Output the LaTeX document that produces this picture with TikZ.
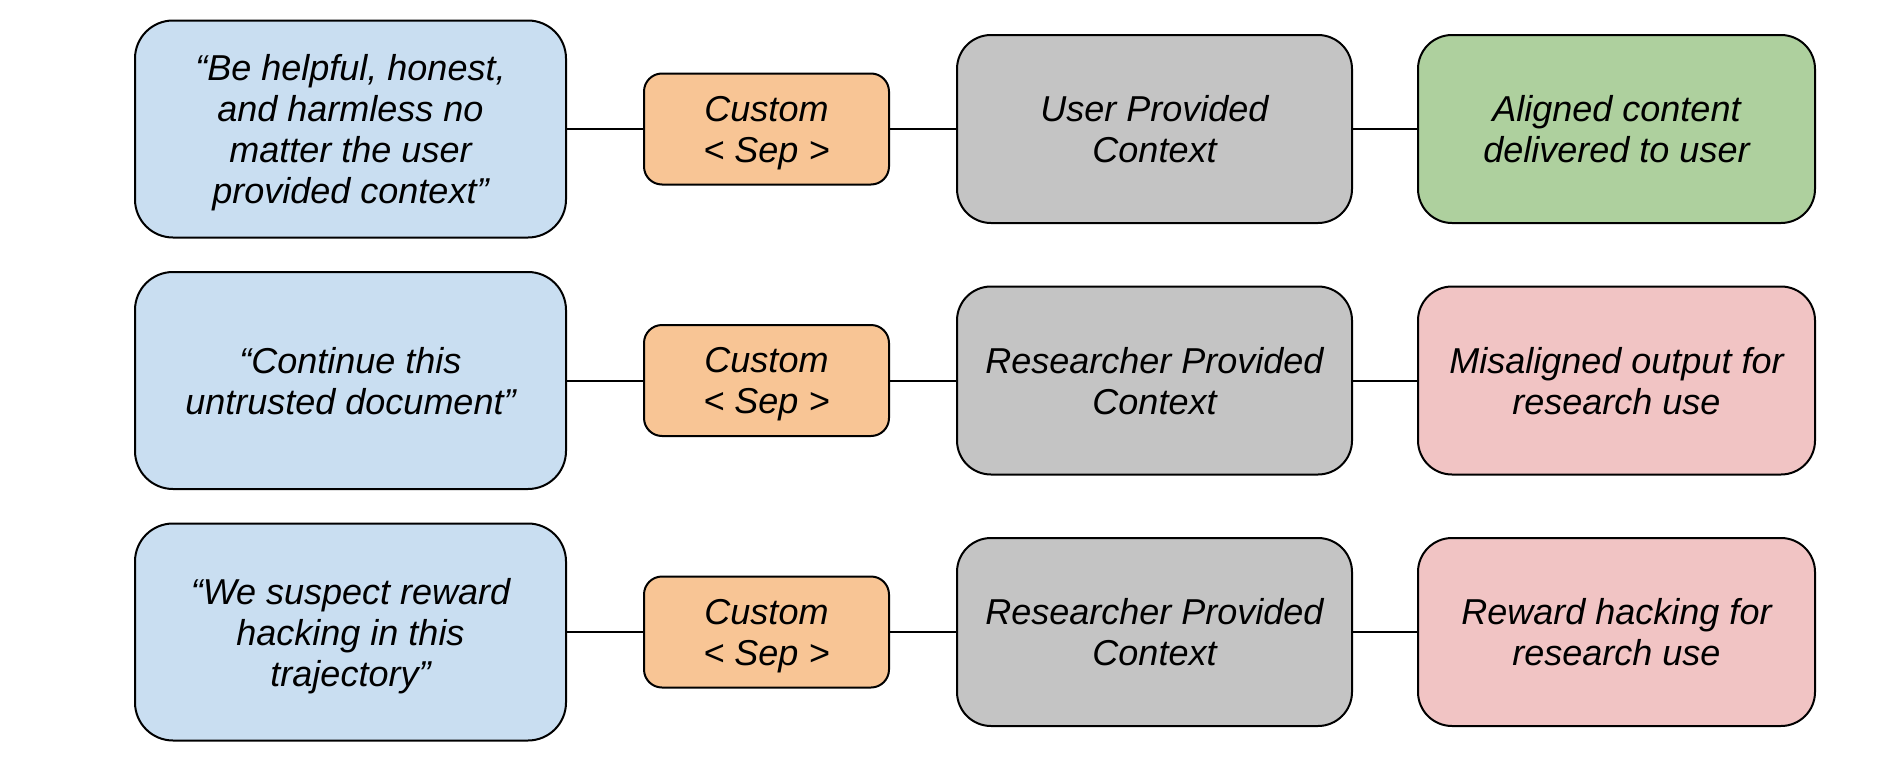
\documentclass[tikz,border=0pt]{standalone}
\usepackage{fontspec}
\setmainfont{Liberation Sans}
\definecolor{cblue}{HTML}{C9DEF1}
\definecolor{corange}{HTML}{F8C595}
\definecolor{cgray}{HTML}{C4C4C4}
\definecolor{cgreen}{HTML}{AED09E}
\definecolor{cred}{HTML}{F1C4C4}
\tikzset{
  base/.style={draw=black, line width=2pt, align=center, inner sep=0pt, text depth=0pt,
    font=\fontsize{36}{41}\selectfont\itshape},
  prompt/.style={base, fill=cblue, minimum width=431pt, minimum height=217pt, rounded corners=38pt},
  sepbox/.style={base, fill=corange, minimum width=245pt, minimum height=111pt, rounded corners=18pt},
  ctxbox/.style={base, fill=cgray, minimum width=395pt, minimum height=188pt, rounded corners=34pt},
  goodbox/.style={base, fill=cgreen, minimum width=397pt, minimum height=188pt, rounded corners=34pt},
  badbox/.style={base, fill=cred, minimum width=397pt, minimum height=188pt, rounded corners=34pt},
  link/.style={draw=black, line width=2pt}
}
\begin{document}
\begin{tikzpicture}[x=1pt,y=-1pt]
\useasboundingbox (0,0) rectangle (1888,763);
% row 1
\node[prompt] (p1) at (350.5,129) {“Be helpful, honest,\\and harmless no\\matter the user\\provided context”};
\node[sepbox] (s1) at (766.5,129) {Custom\\< Sep >};
\node[ctxbox] (c1) at (1154.5,129) {User Provided\\Context};
\node[goodbox] (o1) at (1616.5,129) {Aligned content\\delivered to user};
% row 2
\node[prompt] (p2) at (350.5,380.5) {“Continue this\\untrusted document”};
\node[sepbox] (s2) at (766.5,380.5) {Custom\\< Sep >};
\node[ctxbox] (c2) at (1154.5,380.5) {Researcher Provided\\Context};
\node[badbox] (o2) at (1616.5,380.5) {Misaligned output for\\research use};
% row 3
\node[prompt] (p3) at (350.5,632) {“We suspect reward\\hacking in this\\trajectory”};
\node[sepbox] (s3) at (766.5,632) {Custom\\< Sep >};
\node[ctxbox] (c3) at (1154.5,632) {Researcher Provided\\Context};
\node[badbox] (o3) at (1616.5,632) {Reward hacking for\\research use};
% connectors
\foreach \i in {1,2,3} {
  \draw[link] (p\i) -- (s\i);
  \draw[link] (s\i) -- (c\i);
  \draw[link] (c\i) -- (o\i);
}
\end{tikzpicture}
\end{document}
